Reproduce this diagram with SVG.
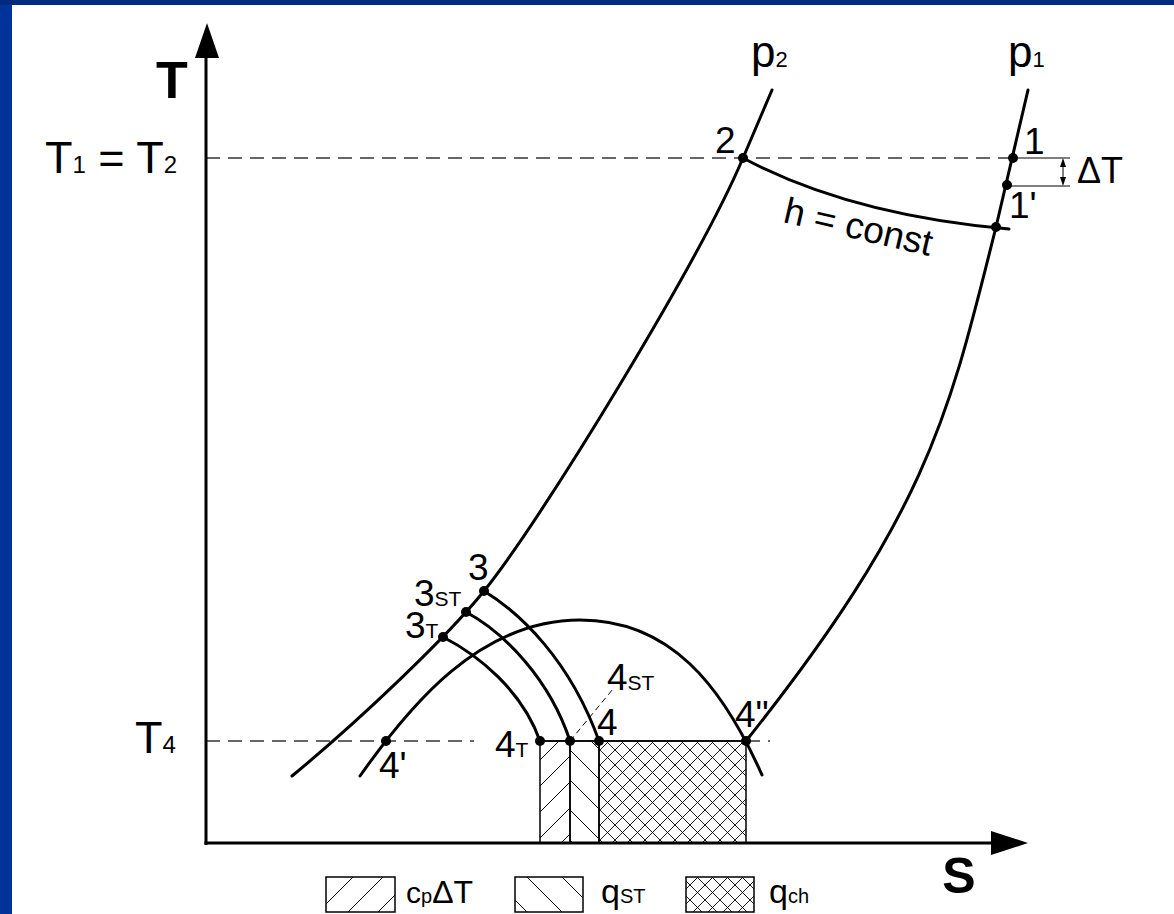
<svg xmlns="http://www.w3.org/2000/svg" width="1174" height="914" viewBox="0 0 1174 914">
<style>
text { font-family: "Liberation Sans", Arial, sans-serif; fill: #000; }
.curve { fill: none; stroke: #000; stroke-width: 3; stroke-linecap: round; }
.axis { fill: none; stroke: #000; stroke-width: 3; }
.dash { fill: none; stroke: #666; stroke-width: 2; stroke-dasharray: 14 8; }
.thin { fill: none; stroke: #000; stroke-width: 1.5; }
.hrect { stroke: #000; stroke-width: 1.5; }
.dot { fill: #000; }
.pt { font-size: 37px; }
.sub { font-size: 21px; }
</style>
<defs>
<pattern id="fwd26" patternUnits="userSpaceOnUse" width="26" height="26"><path d="M0,26 L26,0 M-2,2 L2,-2 M24,28 L28,24" stroke="#000" stroke-width="1"/></pattern>
<pattern id="fwd30" patternUnits="userSpaceOnUse" width="30" height="30"><path d="M0,30 L30,0 M-2,2 L2,-2 M28,32 L32,28" stroke="#000" stroke-width="1"/></pattern>
<pattern id="back30" patternUnits="userSpaceOnUse" width="30" height="30"><path d="M0,0 L30,30 M-2,28 L2,32 M28,-2 L32,2" stroke="#000" stroke-width="1"/></pattern>
<pattern id="back35" patternUnits="userSpaceOnUse" width="35" height="35"><path d="M0,0 L35,35 M-2,33 L2,37 M33,-2 L37,2" stroke="#000" stroke-width="1"/></pattern>
<pattern id="cross15" patternUnits="userSpaceOnUse" width="15" height="15"><path d="M-1,-1 L16,16 M-1,16 L16,-1" stroke="#000" stroke-width="0.9"/></pattern>
</defs>

<g id="background">
<rect x="0" y="0" width="1174" height="914" fill="#003399"/>
<rect x="0" y="0" width="1174" height="5" fill="#002b80"/>
<rect x="12" y="5" width="1162" height="909" fill="#ffffff"/>
</g>

<g id="hatched-areas">
<rect x="540" y="741" width="30" height="102" fill="url(#fwd26)" class="hrect"/>
<rect x="570" y="741" width="29" height="102" fill="url(#back30)" class="hrect"/>
<rect x="599" y="741" width="147" height="102" fill="url(#cross15)" class="hrect"/>
</g>

<g id="guides">
<line class="dash" x1="206" y1="158" x2="1013" y2="158"/>
<line class="dash" x1="206" y1="741" x2="474" y2="741"/>
<line class="dash" x1="746" y1="741" x2="770" y2="741"/>
<line x1="570" y1="741" x2="613" y2="689" stroke="#000" stroke-width="1" stroke-dasharray="6 4"/>
<line class="thin" x1="540" y1="741" x2="746" y2="741"/>
</g>

<g id="axes">
<line class="axis" x1="206" y1="845" x2="206" y2="56"/>
<polygon points="207,23 195,58 219,58" fill="#000"/>
<line class="axis" x1="204.5" y1="843" x2="993" y2="843"/>
<polygon points="1028,843 991,831 991,855" fill="#000"/>
<text x="172" y="98" font-size="52" font-weight="bold" text-anchor="middle">T</text>
<text x="959" y="893" font-size="50" font-weight="bold" text-anchor="middle">S</text>
<text x="45" y="173" font-size="45">T<tspan font-size="24">1</tspan> = T<tspan font-size="24">2</tspan></text>
<text x="135" y="753" font-size="45">T<tspan font-size="24">4</tspan></text>
</g>

<g id="connectors">
<path id="isobar-p2" class="curve" d="M772,90 L743,158 C700,260 541,521 484,591 C448,636 360,720 292,776"/>
<path id="isobar-p1" class="curve" d="M1028,90 L996,227 C950,410 930,510 746,741"/>
<path id="h-const" class="curve" d="M743,158 Q850,215 1009,229"/>
<path id="dome" class="curve" d="M360,776 C410,705 480,620 580,620 C670,620 722,685 762,775"/>
<path id="exp-3" class="curve" d="M484,591 C520,613 570,660 599,741"/>
<path id="exp-3st" class="curve" d="M466,612 C505,633 550,680 570,741"/>
<path id="exp-3t" class="curve" d="M443,637 C478,655 522,690 540,741"/>
</g>

<g id="dimension-dT">
<line x1="1013" y1="158" x2="1070" y2="158" stroke="#000" stroke-width="1"/>
<line x1="1007" y1="186" x2="1070" y2="186" stroke="#000" stroke-width="1"/>
<line x1="1063" y1="164" x2="1063" y2="180" stroke="#000" stroke-width="1"/>
<polygon points="1063,158 1060,167 1066,167" fill="#000"/>
<polygon points="1063,186 1060,177 1066,177" fill="#000"/>
<text x="1077" y="183" font-size="36">ΔT</text>
</g>

<g id="label-p1"><text x="1008" y="67" font-size="44">p<tspan font-size="22">1</tspan></text></g>
<g id="label-p2"><text x="751" y="67" font-size="44">p<tspan font-size="22">2</tspan></text></g>
<g id="label-hconst"><text x="782" y="222" font-size="37" transform="rotate(13 782 222)">h = const</text></g>

<g id="pt-1"><circle class="dot" cx="1013" cy="158" r="5"/><text class="pt" x="1024" y="154">1</text></g>
<g id="pt-1p"><circle class="dot" cx="1007" cy="185" r="5"/><text class="pt" x="1009" y="218">1'</text></g>
<g id="pt-1h"><circle class="dot" cx="996" cy="227" r="5"/></g>
<g id="pt-2"><circle class="dot" cx="743" cy="158" r="5"/><text class="pt" x="715" y="153">2</text></g>
<g id="pt-3"><circle class="dot" cx="484" cy="591" r="5"/><text class="pt" x="468" y="580">3</text></g>
<g id="pt-3st"><circle class="dot" cx="466" cy="612" r="5"/><text class="pt" x="414" y="606">3<tspan class="sub">ST</tspan></text></g>
<g id="pt-3t"><circle class="dot" cx="443" cy="637" r="5"/><text class="pt" x="405" y="638">3<tspan class="sub">T</tspan></text></g>
<g id="pt-4t"><circle class="dot" cx="540" cy="741" r="5"/><text class="pt" x="495" y="757">4<tspan class="sub">T</tspan></text></g>
<g id="pt-4st"><circle class="dot" cx="570" cy="741" r="5"/><text class="pt" x="607" y="690">4<tspan class="sub">ST</tspan></text></g>
<g id="pt-4"><circle class="dot" cx="599" cy="741" r="5"/><text class="pt" x="597" y="735">4</text></g>
<g id="pt-4pp"><circle class="dot" cx="746" cy="741" r="5"/><text class="pt" x="735" y="727">4"</text></g>
<g id="pt-4p"><circle class="dot" cx="386" cy="741" r="5"/><text class="pt" x="379" y="778">4'</text></g>

<g id="legend">
<rect x="326" y="877" width="69" height="35" fill="url(#fwd30)" class="hrect"/>
<text x="406" y="903" font-size="30">c<tspan font-size="20">p</tspan><tspan font-size="32">ΔT</tspan></text>
<rect x="515" y="877" width="68" height="35" fill="url(#back35)" class="hrect"/>
<text x="601" y="903" font-size="34">q<tspan font-size="20">ST</tspan></text>
<rect x="686" y="877" width="68" height="35" fill="url(#cross15)" class="hrect"/>
<text x="769" y="903" font-size="34">q<tspan font-size="20">ch</tspan></text>
</g>
</svg>
